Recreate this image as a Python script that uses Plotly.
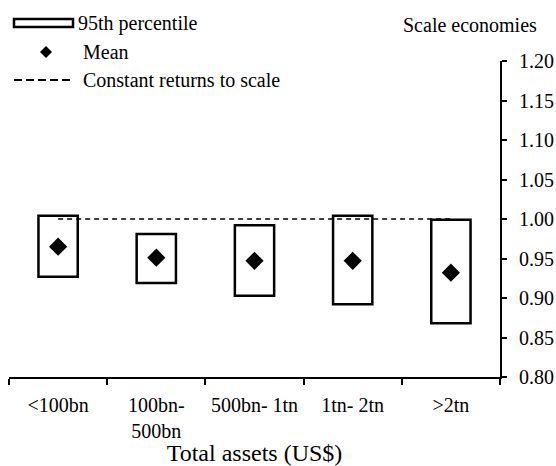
import plotly.graph_objects as go

# size bands (total assets) and scale economy estimates
categories = ["<100bn", "100bn-<br>500bn", "500bn- 1tn", "1tn- 2tn", ">2tn"]
p_low = [0.927, 0.919, 0.903, 0.892, 0.868]
p_high = [1.004, 0.981, 0.992, 1.004, 0.999]
means = [0.965, 0.951, 0.947, 0.947, 0.932]
crs_level = 1.0

W, H = 556, 466
L, R, T, B = 9, 556 - 500, 61, 466 - 377
FONT = "Liberation Serif"
FS = 20


def px(x):
    # pixel -> paper x
    return (x - L) / (W - L - R)


def py(y):
    # pixel -> paper y
    return (H - B - y) / (H - T - B)


fig = go.Figure()

fig.add_trace(go.Bar(
    x=categories,
    y=[h - l for h, l in zip(p_high, p_low)],
    base=p_low,
    width=0.4,
    marker=dict(color="white", line=dict(color="black", width=2.5)),
    showlegend=False,
))

fig.add_trace(go.Scatter(
    x=[categories[0], categories[-1]],
    y=[crs_level, crs_level],
    mode="lines",
    line=dict(color="black", width=1.5, dash="5px,4px"),
    showlegend=False,
))

fig.add_trace(go.Scatter(
    x=categories,
    y=means,
    mode="markers",
    marker=dict(symbol="diamond", size=14, color="black"),
    showlegend=False,
))

# hand made legend
fig.add_shape(type="rect", xref="paper", yref="paper",
              x0=px(14), x1=px(73), y0=py(27), y1=py(19),
              line=dict(color="black", width=2.5), fillcolor="white")
cx, cy, r = 46, 52, 6
fig.add_shape(type="path", xref="paper", yref="paper",
              path=f"M {px(cx - r)} {py(cy)} L {px(cx)} {py(cy - r)} L {px(cx + r)} {py(cy)} L {px(cx)} {py(cy + r)} Z",
              line=dict(color="black", width=0), fillcolor="black")
fig.add_shape(type="line", xref="paper", yref="paper",
              x0=px(14), x1=px(73), y0=py(80), y1=py(80),
              line=dict(color="black", width=2, dash="8px,4px"))

legend_txt = [("95th percentile", 76, 23), ("Mean", 81, 52), ("Constant returns to scale", 81, 80)]
for txt, x, y in legend_txt:
    fig.add_annotation(text=txt, xref="paper", yref="paper", x=px(x), y=py(y),
                       xanchor="left", yanchor="middle", showarrow=False,
                       font=dict(family=FONT, size=FS, color="black"))

fig.add_annotation(text="Scale economies", xref="paper", yref="paper", x=px(401), y=py(25),
                   xanchor="left", yanchor="middle", showarrow=False,
                   font=dict(family=FONT, size=FS, color="black"))

fig.update_layout(
    width=W, height=H,
    margin=dict(l=L, r=R, t=T, b=B, autoexpand=False),
    plot_bgcolor="white", paper_bgcolor="white",
    font=dict(family=FONT, size=FS, color="black"),
)

fig.update_xaxes(
    type="category",
    range=[-0.5, 4.5],
    showline=True, linecolor="black", linewidth=2,
    ticks="outside", tickson="boundaries", ticklen=6, tickwidth=2, tickcolor="black",
    tickangle=0, automargin=False,
    showgrid=False, zeroline=False,
    ticklabelstandoff=9,
    title=dict(text="Total assets (US$)", standoff=2),
)

fig.update_yaxes(
    side="right",
    range=[0.8, 1.2],
    dtick=0.05, tickformat=".2f",
    showline=True, linecolor="black", linewidth=2,
    ticks="outside", ticklen=5, tickwidth=2, tickcolor="black",
    automargin=False,
    showgrid=False, zeroline=False,
    ticklabelstandoff=8,
)

# drop the page's default body margin so the figure fills the window
fig.write_html("out.html", config={"displayModeBar": False, "responsive": False},
               post_script="document.body.style.margin='0px';")
